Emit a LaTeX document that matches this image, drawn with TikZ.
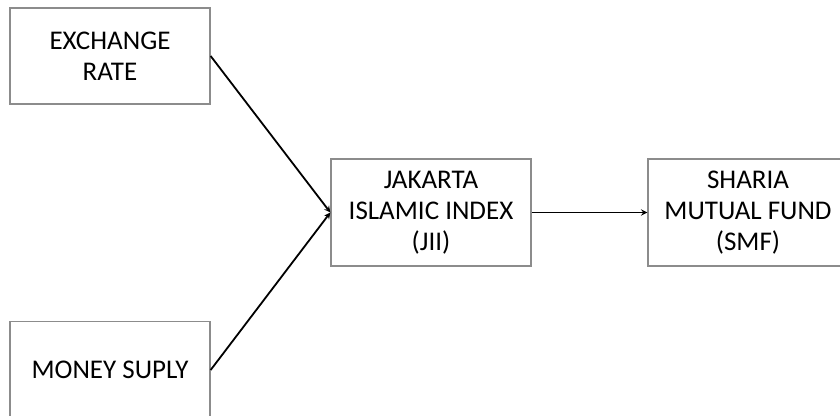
\documentclass[tikz,border=0pt]{standalone}
\usepackage{fontspec}
\setmainfont{Carlito}
\usepackage{tikz}

\begin{document}
\begin{tikzpicture}[x=1pt,y=-1pt,line width=1.8pt,>=stealth,
  var/.style={draw=gray!90,line width=1.3pt,fill=white,minimum width=200pt,align=center,
    font=\fontsize{27}{31}\selectfont,text=black},
  arr/.style={->,black}]
\useasboundingbox (0,0) rectangle (840,415);
\node[var,minimum height=96pt] (er) at (110,56) {EXCHANGE\\RATE};
\node[var,minimum height=97pt] (ms) at (110,370) {MONEY SUPLY};
\node[var,minimum height=107pt] (jii) at (431,212.5) {JAKARTA\\ISLAMIC INDEX\\(JII)};
\node[var,minimum height=107pt] (smf) at (748,212.5) {SHARIA\\MUTUAL FUND\\(SMF)};
\draw[arr] (er.east) -- (jii.west);
\draw[arr] (ms.east) -- (jii.west);
\draw[arr] (jii.east) -- (smf.west);
\end{tikzpicture}
\end{document}
